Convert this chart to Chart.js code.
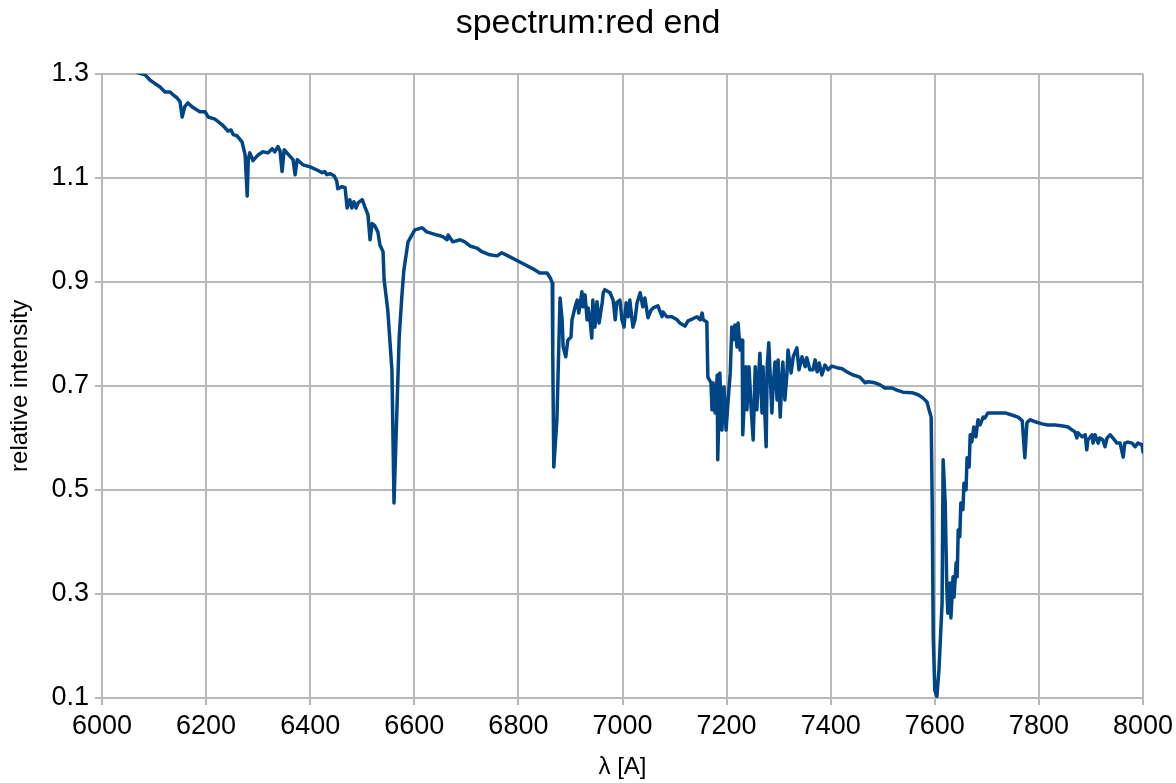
<!DOCTYPE html>
<html>
<head>
<meta charset="utf-8">
<title>spectrum:red end</title>
<script src="https://cdn.jsdelivr.net/npm/chart.js@4/dist/chart.umd.min.js"></script>
<style>
  html, body { margin: 0; padding: 0; background: #ffffff; }
  #wrap { width: 1176px; height: 783px; position: relative; }
</style>
</head>
<body>
<div id="wrap"><canvas id="chart" width="1176" height="783"></canvas></div>
<script>
// Wavelength samples (Angstrom) of the red end of the spectrum
const wavelength = [
  6015, 6069, 6083, 6092, 6102, 6111, 6121, 6131, 6136, 6144,
  6150, 6154, 6159, 6165, 6175, 6188, 6198, 6204, 6217, 6231,
  6242, 6248, 6252, 6259, 6269, 6275, 6279, 6281, 6284, 6290,
  6300, 6309, 6319, 6327, 6332, 6338, 6342, 6346, 6350, 6357,
  6367, 6371, 6375, 6386, 6400, 6413, 6423, 6428, 6432, 6438,
  6446, 6451, 6453, 6461, 6467, 6471, 6476, 6480, 6484, 6488,
  6492, 6500, 6505, 6511, 6515, 6519, 6524, 6530, 6534, 6540,
  6542, 6549, 6557, 6561, 6567, 6571, 6576, 6580, 6588, 6601,
  6615, 6624, 6644, 6655, 6663, 6665, 6674, 6688, 6697, 6707,
  6720, 6730, 6745, 6759, 6768, 6780, 6799, 6813, 6828, 6841,
  6855, 6861, 6865, 6866, 6868, 6874, 6880, 6884, 6886, 6891,
  6895, 6901, 6903, 6909, 6913, 6916, 6922, 6924, 6928, 6932,
  6934, 6938, 6941, 6943, 6947, 6951, 6955, 6961, 6963, 6966,
  6976, 6982, 6986, 6989, 6995, 6999, 7003, 7007, 7011, 7014,
  7020, 7024, 7028, 7034, 7039, 7043, 7049, 7055, 7059, 7068,
  7076, 7078, 7085, 7095, 7105, 7110, 7120, 7126, 7135, 7143,
  7149, 7153, 7155, 7162, 7164, 7170, 7172, 7174, 7178, 7182,
  7183, 7187, 7191, 7195, 7199, 7203, 7207, 7210, 7212, 7216,
  7220, 7222, 7226, 7230, 7231, 7237, 7239, 7243, 7247, 7251,
  7255, 7258, 7264, 7268, 7270, 7276, 7278, 7281, 7287, 7289,
  7293, 7297, 7299, 7303, 7306, 7308, 7312, 7316, 7318, 7324,
  7328, 7335, 7339, 7345, 7351, 7354, 7360, 7366, 7370, 7374,
  7378, 7383, 7389, 7395, 7402, 7412, 7422, 7431, 7443, 7456,
  7466, 7472, 7485, 7495, 7504, 7518, 7527, 7539, 7556, 7568,
  7577, 7585, 7589, 7593, 7595, 7597, 7600, 7604, 7608, 7614,
  7616, 7620, 7623, 7625, 7629, 7631, 7635, 7637, 7641, 7643,
  7645, 7648, 7650, 7654, 7656, 7660, 7662, 7666, 7668, 7671,
  7675, 7679, 7683, 7687, 7693, 7696, 7702, 7720, 7735, 7748,
  7760, 7768, 7773, 7777, 7783, 7793, 7806, 7817, 7831, 7846,
  7856, 7864, 7869, 7873, 7875, 7883, 7889, 7892, 7894, 7902,
  7904, 7908, 7914, 7917, 7923, 7927, 7931, 7937, 7942, 7950,
  7956, 7962, 7965, 7971, 7979, 7985, 7990, 7998, 8000
];

// Relative intensity at each wavelength sample
const intensity = [
  1.327, 1.302, 1.298, 1.288, 1.281, 1.275, 1.265, 1.265, 1.260, 1.254,
  1.246, 1.217, 1.237, 1.244, 1.235, 1.227, 1.227, 1.217, 1.213, 1.202,
  1.190, 1.192, 1.183, 1.181, 1.169, 1.144, 1.065, 1.135, 1.148, 1.133,
  1.144, 1.150, 1.148, 1.156, 1.150, 1.160, 1.152, 1.112, 1.154, 1.146,
  1.135, 1.106, 1.135, 1.125, 1.121, 1.115, 1.110, 1.112, 1.106, 1.108,
  1.104, 1.094, 1.079, 1.083, 1.081, 1.042, 1.058, 1.042, 1.054, 1.042,
  1.052, 1.058, 1.044, 1.029, 0.981, 1.012, 1.008, 0.996, 0.971, 0.958,
  0.904, 0.846, 0.731, 0.475, 0.667, 0.794, 0.871, 0.923, 0.977, 1.000,
  1.004, 0.996, 0.990, 0.987, 0.981, 0.990, 0.977, 0.981, 0.977, 0.969,
  0.965, 0.958, 0.952, 0.950, 0.956, 0.950, 0.940, 0.933, 0.925, 0.917,
  0.917, 0.908, 0.898, 0.763, 0.544, 0.635, 0.869, 0.827, 0.775, 0.756,
  0.788, 0.794, 0.827, 0.852, 0.865, 0.840, 0.881, 0.852, 0.875, 0.827,
  0.850, 0.823, 0.792, 0.865, 0.813, 0.862, 0.821, 0.860, 0.879, 0.885,
  0.879, 0.865, 0.827, 0.860, 0.865, 0.827, 0.813, 0.860, 0.833, 0.865,
  0.813, 0.827, 0.860, 0.879, 0.852, 0.869, 0.831, 0.846, 0.850, 0.854,
  0.833, 0.842, 0.833, 0.833, 0.827, 0.821, 0.815, 0.825, 0.829, 0.833,
  0.827, 0.840, 0.827, 0.823, 0.717, 0.706, 0.654, 0.706, 0.648, 0.721,
  0.558, 0.725, 0.615, 0.698, 0.615, 0.673, 0.725, 0.813, 0.788, 0.817,
  0.775, 0.821, 0.769, 0.788, 0.606, 0.737, 0.654, 0.737, 0.660, 0.596,
  0.737, 0.654, 0.763, 0.648, 0.737, 0.583, 0.737, 0.783, 0.648, 0.692,
  0.746, 0.673, 0.750, 0.640, 0.706, 0.746, 0.673, 0.725, 0.769, 0.725,
  0.756, 0.773, 0.731, 0.756, 0.737, 0.754, 0.731, 0.731, 0.750, 0.727,
  0.744, 0.721, 0.740, 0.731, 0.738, 0.735, 0.733, 0.727, 0.721, 0.717,
  0.706, 0.708, 0.706, 0.702, 0.696, 0.696, 0.692, 0.688, 0.687, 0.683,
  0.677, 0.669, 0.654, 0.640, 0.475, 0.217, 0.115, 0.103, 0.154, 0.283,
  0.558, 0.475, 0.313, 0.263, 0.321, 0.254, 0.333, 0.294, 0.360, 0.333,
  0.423, 0.410, 0.475, 0.462, 0.513, 0.500, 0.562, 0.544, 0.606, 0.592,
  0.621, 0.602, 0.635, 0.625, 0.640, 0.638, 0.648, 0.648, 0.648, 0.644,
  0.640, 0.633, 0.562, 0.629, 0.635, 0.631, 0.627, 0.625, 0.625, 0.623,
  0.621, 0.615, 0.612, 0.600, 0.610, 0.602, 0.606, 0.577, 0.596, 0.606,
  0.590, 0.606, 0.590, 0.600, 0.596, 0.583, 0.600, 0.606, 0.600, 0.590,
  0.590, 0.563, 0.590, 0.592, 0.590, 0.583, 0.590, 0.587, 0.573
];

// Axis tick labels
const xTicks = [6000, 6200, 6400, 6600, 6800, 7000, 7200, 7400, 7600, 7800, 8000];
const yTicks = [0.1, 0.3, 0.5, 0.7, 0.9, 1.1, 1.3];

const points = wavelength.map((w, i) => ({ x: w, y: intensity[i] }));

const gridColor = '#b9b9b9';
const fontFamily = '"Liberation Sans", Arial, sans-serif';

new Chart(document.getElementById('chart'), {
  type: 'line',
  data: {
    datasets: [{
      label: 'spectrum',
      data: points,
      borderColor: '#004586',
      backgroundColor: '#004586',
      borderWidth: 3.5,
      borderJoinStyle: 'round',
      borderCapStyle: 'round',
      pointRadius: 0,
      tension: 0,
      fill: false
    }]
  },
  options: {
    responsive: false,
    animation: false,
    devicePixelRatio: 1,
    layout: { padding: 0 },
    plugins: {
      legend: { display: false },
      tooltip: { enabled: false },
      title: {
        display: true,
        text: 'spectrum:red end',
        color: '#000000',
        font: { family: fontFamily, size: 34, weight: 'normal' },
        padding: { top: 3, bottom: 30 }
      }
    },
    scales: {
      x: {
        type: 'linear',
        min: 6000,
        max: 8000,
        afterBuildTicks: (scale) => { scale.ticks = xTicks.map(v => ({ value: v })); },
        afterFit: (scale) => { scale.height = 85; scale.paddingRight = 33; },
        ticks: {
          color: '#000000',
          font: { family: fontFamily, size: 27 },
          padding: 5,
          maxRotation: 0,
          callback: (v) => String(v)
        },
        grid: { color: gridColor, lineWidth: 2, tickLength: 7, drawTicks: true },
        border: { color: gridColor, width: 2 },
        title: {
          display: true,
          text: 'λ [A]',
          color: '#000000',
          font: { family: fontFamily, size: 24 },
          padding: { top: 0, bottom: 1 }
        }
      },
      y: {
        type: 'linear',
        min: 0.1,
        max: 1.3,
        afterBuildTicks: (scale) => { scale.ticks = yTicks.map(v => ({ value: v })); },
        afterFit: (scale) => { scale.width = 102; },
        ticks: {
          color: '#000000',
          font: { family: fontFamily, size: 27 },
          padding: 6,
          callback: (v) => Number(v).toFixed(1)
        },
        grid: { color: gridColor, lineWidth: 2, tickLength: 7, drawTicks: true },
        border: { color: gridColor, width: 2 },
        title: {
          display: true,
          text: 'relative intensity',
          color: '#000000',
          font: { family: fontFamily, size: 24 },
          padding: { top: 6, bottom: 0 }
        }
      }
    }
  }
});
</script>
</body>
</html>
